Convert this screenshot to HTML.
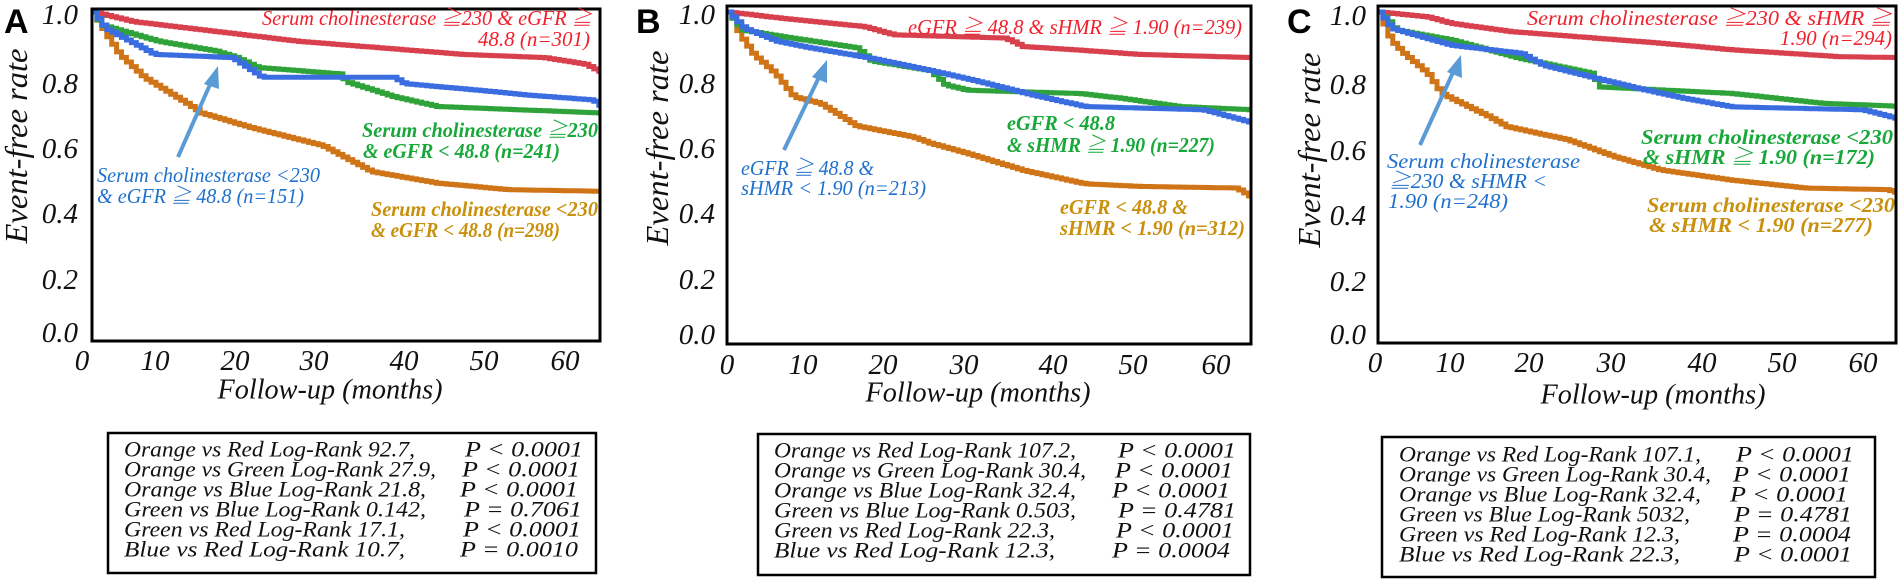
<!DOCTYPE html>
<html><head><meta charset="utf-8"><style>
html,body{margin:0;padding:0;background:#fff;}
svg{display:block;}
text{font-family:"Liberation Serif","Times New Roman","DejaVu Serif",serif;}
.tk{font-style:italic;font-size:29px;fill:#111;}
.ax{font-style:italic;font-size:28px;fill:#111;}
.yt{font-style:italic;font-size:32px;fill:#111;}
.pl{font-family:"Liberation Sans",sans-serif;font-weight:bold;font-size:34px;fill:#000;}
.an{font-family:"Liberation Serif","Times New Roman","DejaVu Serif","Noto Serif CJK SC",serif;font-style:italic;font-size:21px;}
.ab{font-family:"Liberation Serif","Times New Roman","DejaVu Serif","Noto Serif CJK SC",serif;font-style:italic;font-weight:bold;font-size:21px;}
.bx{font-style:italic;font-size:22px;fill:#111;}
.r{fill:#f0202c}.g{fill:#18a83a}.b{fill:#1f70cc}.o{fill:#c8900c}
</style></head><body>
<svg id="s" width="1899" height="582" viewBox="0 0 1899 582" xmlns="http://www.w3.org/2000/svg">
<g id="curves"></g>
<rect x="92" y="9" width="508" height="332" fill="none" stroke="#000" stroke-width="3"/>
<rect x="727" y="6" width="524" height="338" fill="none" stroke="#000" stroke-width="3"/>
<rect x="1378" y="6" width="518" height="337" fill="none" stroke="#000" stroke-width="3"/>
<text class="pl" x="4" y="33">A</text>
<text class="pl" x="636" y="33">B</text>
<text class="pl" x="1287" y="33">C</text>
<g class="tk" text-anchor="end" dominant-baseline="central">
<text x="78" y="15">1.0</text><text x="78" y="84">0.8</text><text x="78" y="149">0.6</text><text x="78" y="214">0.4</text><text x="78" y="280">0.2</text><text x="78" y="333">0.0</text>
<text x="715" y="15">1.0</text><text x="715" y="84">0.8</text><text x="715" y="149">0.6</text><text x="715" y="214">0.4</text><text x="715" y="280">0.2</text><text x="715" y="335">0.0</text>
<text x="1366" y="16">1.0</text><text x="1366" y="85">0.8</text><text x="1366" y="151">0.6</text><text x="1366" y="216">0.4</text><text x="1366" y="282">0.2</text><text x="1366" y="335">0.0</text>
</g>
<g class="tk" text-anchor="middle" dominant-baseline="central">
<text x="82" y="361">0</text><text x="155" y="361">10</text><text x="235" y="361">20</text><text x="314" y="361">30</text><text x="404" y="361">40</text><text x="484" y="361">50</text><text x="565" y="361">60</text>
<text x="727" y="365">0</text><text x="803" y="365">10</text><text x="883" y="365">20</text><text x="964" y="365">30</text><text x="1053" y="365">40</text><text x="1133" y="365">50</text><text x="1216" y="365">60</text>
<text x="1375" y="363">0</text><text x="1450" y="363">10</text><text x="1529" y="363">20</text><text x="1611" y="363">30</text><text x="1702" y="363">40</text><text x="1782" y="363">50</text><text x="1863" y="363">60</text>
</g>
<g class="ax" text-anchor="middle" dominant-baseline="central">
<text x="330" y="390" textLength="225" lengthAdjust="spacingAndGlyphs">Follow-up (months)</text>
<text x="978" y="393" textLength="225" lengthAdjust="spacingAndGlyphs">Follow-up (months)</text>
<text x="1653" y="395" textLength="225" lengthAdjust="spacingAndGlyphs">Follow-up (months)</text>
</g>
<g class="yt" text-anchor="middle" dominant-baseline="central">
<text transform="translate(16,146) rotate(-90)" textLength="195" lengthAdjust="spacingAndGlyphs">Event-free rate</text>
<text transform="translate(657,148) rotate(-90)" textLength="195" lengthAdjust="spacingAndGlyphs">Event-free rate</text>
<text transform="translate(1309,150) rotate(-90)" textLength="195" lengthAdjust="spacingAndGlyphs">Event-free rate</text>
</g>
<g stroke="#5b9bd5" stroke-width="4" fill="#5b9bd5">
<line x1="178" y1="157" x2="212" y2="80"/><polygon points="218,66 204,84 219,89" stroke="none"/>
<line x1="784" y1="150" x2="821" y2="73"/><polygon points="827,60 812,77 827,83" stroke="none"/>
<line x1="1420" y1="145" x2="1455" y2="68"/><polygon points="1461,55 1447,72 1462,78" stroke="none"/>
</g>
<text class="an r" x="262" y="25" textLength="330" lengthAdjust="spacingAndGlyphs">Serum cholinesterase ≧230 &amp; eGFR ≧</text>
<text class="an r" x="590" y="46" text-anchor="end">48.8 (n=301)</text>
<text class="ab g" x="362" y="137" textLength="236" lengthAdjust="spacingAndGlyphs">Serum cholinesterase ≧230</text>
<text class="ab g" x="363" y="158" textLength="197" lengthAdjust="spacingAndGlyphs">&amp; eGFR &lt; 48.8 (n=241)</text>
<text class="an b" x="97" y="182" textLength="223" lengthAdjust="spacingAndGlyphs">Serum cholinesterase &lt;230</text>
<text class="an b" x="97" y="203" textLength="207" lengthAdjust="spacingAndGlyphs">&amp; eGFR ≧ 48.8 (n=151)</text>
<text class="ab o" x="371" y="216" textLength="227" lengthAdjust="spacingAndGlyphs">Serum cholinesterase &lt;230</text>
<text class="ab o" x="371" y="237" textLength="189" lengthAdjust="spacingAndGlyphs">&amp; eGFR &lt; 48.8 (n=298)</text>
<text class="an r" x="908" y="34" textLength="334" lengthAdjust="spacingAndGlyphs">eGFR ≧ 48.8 &amp; sHMR ≧ 1.90 (n=239)</text>
<text class="ab g" x="1007" y="130" textLength="108" lengthAdjust="spacingAndGlyphs">eGFR &lt; 48.8</text>
<text class="ab g" x="1007" y="152" textLength="208" lengthAdjust="spacingAndGlyphs">&amp; sHMR ≧ 1.90 (n=227)</text>
<text class="an b" x="741" y="175" textLength="133" lengthAdjust="spacingAndGlyphs">eGFR ≧ 48.8 &amp;</text>
<text class="an b" x="741" y="195" textLength="185" lengthAdjust="spacingAndGlyphs">sHMR &lt; 1.90 (n=213)</text>
<text class="ab o" x="1060" y="214" textLength="128" lengthAdjust="spacingAndGlyphs">eGFR &lt; 48.8 &amp;</text>
<text class="ab o" x="1060" y="235" textLength="185" lengthAdjust="spacingAndGlyphs">sHMR &lt; 1.90 (n=312)</text>
<text class="an r" x="1527" y="25" textLength="365" lengthAdjust="spacingAndGlyphs">Serum cholinesterase ≧230 &amp; sHMR ≧</text>
<text class="an r" x="1892" y="45" text-anchor="end">1.90 (n=294)</text>
<text class="ab g" x="1641" y="144" textLength="252" lengthAdjust="spacingAndGlyphs">Serum cholinesterase &lt;230</text>
<text class="ab g" x="1643" y="164" textLength="232" lengthAdjust="spacingAndGlyphs">&amp; sHMR ≧ 1.90 (n=172)</text>
<text class="an b" x="1387" y="168" textLength="193" lengthAdjust="spacingAndGlyphs">Serum cholinesterase</text>
<text class="an b" x="1389" y="188" textLength="158" lengthAdjust="spacingAndGlyphs">≧230 &amp; sHMR &lt;</text>
<text class="an b" x="1388" y="208" textLength="120" lengthAdjust="spacingAndGlyphs">1.90 (n=248)</text>
<text class="ab o" x="1647" y="212" textLength="248" lengthAdjust="spacingAndGlyphs">Serum cholinesterase &lt;230</text>
<text class="ab o" x="1649" y="232" textLength="224" lengthAdjust="spacingAndGlyphs">&amp; sHMR &lt; 1.90 (n=277)</text>
<rect x="108" y="433" width="488" height="140" fill="none" stroke="#000" stroke-width="2.5"/>
<rect x="758" y="434" width="492" height="141" fill="none" stroke="#000" stroke-width="2.5"/>
<rect x="1382" y="437" width="493" height="140" fill="none" stroke="#000" stroke-width="2.5"/>
<g class="bx" dominant-baseline="central" lengthAdjust="spacingAndGlyphs">
<text class="L" x="124" y="449">Orange vs Red Log-Rank 92.7,</text><text class="P" x="465" y="449">P &lt; 0.0001</text>
<text class="L" x="124" y="469">Orange vs Green Log-Rank 27.9,</text><text class="P" x="462" y="469">P &lt; 0.0001</text>
<text class="L" x="124" y="489">Orange vs Blue Log-Rank 21.8,</text><text class="P" x="460" y="489">P &lt; 0.0001</text>
<text class="L" x="124" y="509">Green vs Blue Log-Rank 0.142,</text><text class="P" x="464" y="509">P = 0.7061</text>
<text class="L" x="124" y="529">Green vs Red Log-Rank 17.1,</text><text class="P" x="463" y="529">P &lt; 0.0001</text>
<text class="L" x="124" y="549">Blue vs Red  Log-Rank 10.7,</text><text class="P" x="460" y="549">P = 0.0010</text>
<text class="L" x="774" y="450">Orange vs Red Log-Rank 107.2,</text><text class="P" x="1118" y="450">P &lt; 0.0001</text>
<text class="L" x="774" y="470">Orange vs Green Log-Rank 30.4,</text><text class="P" x="1115" y="470">P &lt; 0.0001</text>
<text class="L" x="774" y="490">Orange vs Blue Log-Rank 32.4,</text><text class="P" x="1112" y="490">P &lt; 0.0001</text>
<text class="L" x="774" y="510">Green vs Blue Log-Rank 0.503,</text><text class="P" x="1118" y="510">P = 0.4781</text>
<text class="L" x="774" y="530">Green vs Red Log-Rank 22.3,</text><text class="P" x="1116" y="530">P &lt; 0.0001</text>
<text class="L" x="774" y="550">Blue vs Red  Log-Rank 12.3,</text><text class="P" x="1112" y="550">P = 0.0004</text>
<text class="L" x="1399" y="454">Orange vs Red Log-Rank 107.1,</text><text class="P" x="1736" y="454">P &lt; 0.0001</text>
<text class="L" x="1399" y="474">Orange vs Green Log-Rank 30.4,</text><text class="P" x="1733" y="474">P &lt; 0.0001</text>
<text class="L" x="1399" y="494">Orange vs Blue Log-Rank 32.4,</text><text class="P" x="1730" y="494">P &lt; 0.0001</text>
<text class="L" x="1399" y="514">Green vs Blue Log-Rank 5032,</text><text class="P" x="1734" y="514">P = 0.4781</text>
<text class="L" x="1399" y="534">Green vs Red Log-Rank 12.3,</text><text class="P" x="1733" y="534">P = 0.0004</text>
<text class="L" x="1399" y="554">Blue vs Red  Log-Rank 22.3,</text><text class="P" x="1734" y="554">P &lt; 0.0001</text>
</g>
</svg>
<script>
document.querySelectorAll("text.L").forEach(function(t){
 t.setAttribute("textLength",(t.textContent.length*10.4).toFixed(0));
 t.setAttribute("lengthAdjust","spacingAndGlyphs");
});
document.querySelectorAll("text.P").forEach(function(t){
 t.setAttribute("textLength","118");t.setAttribute("lengthAdjust","spacingAndGlyphs");
});
var panels=[
 {L:92,R:600,c:{
  r:[[0,1],[5,.97],[15,.94],[25,.91],[35,.89],[45,.87],[55,.86],[60,.84],[62,.816]],
  g:[[0,1],[1,.96],[8,.91],[15,.88],[17.5,.86],[20,.83],[30,.81],[31,.785],[36.7,.74],[42,.71],[62,.69]],
  b:[[0,1],[1.5,.95],[7.5,.87],[17,.86],[20.6,.80],[36.7,.80],[38,.78],[47,.76],[53,.745],[61,.73],[62,.71]],
  o:[[0,1],[1.9,.92],[3.2,.87],[6.2,.80],[11.4,.72],[13.2,.69],[19.3,.645],[28,.59],[34,.51],[42,.475],[50.6,.455],[62,.45]]}},
 {L:727,R:1251,c:{
  r:[[0,1],[6.7,.98],[16.6,.955],[20.2,.93],[33.8,.92],[36,.894],[42.8,.883],[50,.87],[64,.86]],
  g:[[0,1],[1.7,.945],[6.7,.924],[15.7,.89],[17.5,.85],[24.7,.82],[26.5,.776],[29.2,.76],[42.8,.75],[48,.735],[55,.71],[64,.70]],
  b:[[0,1],[2,.95],[6,.91],[10,.89],[17,.86],[24.7,.82],[30,.79],[37.2,.745],[43.5,.71],[58,.70],[64,.66]],
  o:[[0,1],[0.8,.975],[1.3,.935],[3.1,.87],[5.8,.81],[8,.74],[11.2,.72],[15.7,.65],[22.5,.617],[24.7,.597],[29.2,.566],[36,.514],[43.5,.473],[50,.465],[62,.46],[64,.43]]}},
 {L:1378,R:1896,c:{
  r:[[0,1],[5.9,.985],[8.8,.965],[16,.94],[34.4,.904],[43,.884],[56,.863],[64,.86]],
  g:[[0,1],[1.4,.965],[2,.945],[8.8,.914],[17.3,.857],[25.9,.812],[27,.77],[43,.75],[54,.72],[64,.71]],
  b:[[0,1],[0.8,.975],[1.5,.95],[8.8,.898],[17.3,.873],[20,.837],[25.9,.80],[31.5,.766],[37.2,.735],[43,.709],[59,.70],[64,.668]],
  o:[[0,1],[1.4,.914],[3,.873],[5.9,.812],[7.6,.75],[8.8,.735],[13.3,.68],[15.6,.648],[23,.608],[28.7,.556],[34.4,.515],[43,.484],[52,.46],[62,.455],[64,.44]]}}
];
var col={r:"#d8404e",g:"#2fa33a",b:"#3a6ee0",o:"#d07418"};
var order=["o","r","g","b"];
var G=document.getElementById("curves"),NS="http://www.w3.org/2000/svg";
function Y(v){return 338-326*v;}
panels.forEach(function(p){
 order.forEach(function(k){
  var pts=p.c[k],tmax=pts[pts.length-1][0];
  var xEnd=Math.min(p.R-1,p.L+8.2*tmax);
  var d="M"+p.L+","+Y(1);
  for(var t=0;t<=tmax;t+=0.6){
   var i=0;while(i<pts.length-2&&pts[i+1][0]<t)i++;
   var a=pts[i],b=pts[i+1],f=(b[0]-a[0])?(t-a[0])/(b[0]-a[0]):1;f=Math.max(0,Math.min(1,f));
   var v=a[1]+(b[1]-a[1])*f,x=Math.min(xEnd,p.L+8.2*t),y=Y(v);
   d+=" H"+x.toFixed(1)+" V"+y.toFixed(1);
  }
  d+=" H"+xEnd+" V"+Y(pts[pts.length-1][1]).toFixed(1);
  var e=document.createElementNS(NS,"path");
  e.setAttribute("d",d);e.setAttribute("fill","none");e.setAttribute("stroke",col[k]);
  e.setAttribute("stroke-width","5");G.appendChild(e);
 });
});
</script>
</body></html>
